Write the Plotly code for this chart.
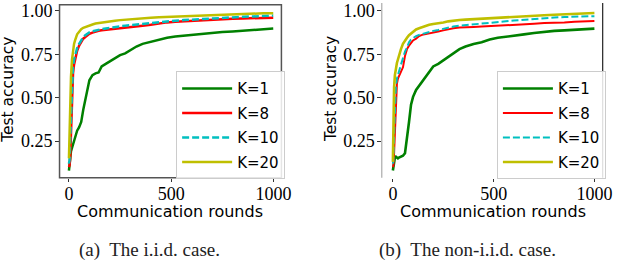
import plotly.graph_objects as go

# ---------------- data ----------------
rounds = [0, 3, 6, 10, 15, 20, 25, 30, 40, 50, 60, 70, 80, 90, 100, 115, 130, 145, 160, 180,
          200, 225, 250, 275, 300, 330, 360, 400, 440, 480, 520, 560, 600, 650, 700, 750,
          800, 850, 900, 950, 999]

iid_k1 = [0.08, 0.12, 0.16, 0.19, 0.21, 0.23, 0.26, 0.28, 0.31, 0.33, 0.36, 0.43, 0.49, 0.55,
          0.60, 0.63, 0.64, 0.645, 0.68, 0.695, 0.71, 0.73, 0.745, 0.755, 0.775, 0.795, 0.81,
          0.822, 0.834, 0.845, 0.853, 0.858, 0.862, 0.868, 0.874, 0.879, 0.882, 0.886, 0.89,
          0.894, 0.898]
iid_k8 = [0.10, 0.11, 0.15, 0.30, 0.55, 0.64, 0.69, 0.72, 0.77, 0.80, 0.82, 0.84, 0.85, 0.86,
          0.868, 0.875, 0.882, 0.886, 0.889, 0.892, 0.895, 0.899, 0.902, 0.905, 0.908, 0.911,
          0.915, 0.92, 0.928, 0.934, 0.937, 0.94, 0.943, 0.946, 0.95, 0.952, 0.955, 0.957,
          0.958, 0.96, 0.961]
iid_k10 = [0.12, 0.14, 0.25, 0.40, 0.60, 0.68, 0.72, 0.745, 0.785, 0.81, 0.83, 0.85, 0.86, 0.87,
           0.876, 0.882, 0.887, 0.891, 0.895, 0.899, 0.903, 0.907, 0.911, 0.915, 0.918, 0.922,
           0.926, 0.931, 0.935, 0.94, 0.944, 0.947, 0.95, 0.953, 0.957, 0.96, 0.963, 0.966,
           0.968, 0.971, 0.973]
iid_k20 = [0.15, 0.30, 0.50, 0.62, 0.72, 0.78, 0.81, 0.83, 0.865, 0.88, 0.895, 0.903, 0.908,
           0.913, 0.917, 0.922, 0.927, 0.93, 0.934, 0.938, 0.941, 0.944, 0.947, 0.95, 0.953,
           0.956, 0.958, 0.961, 0.964, 0.966, 0.968, 0.97, 0.972, 0.975, 0.977, 0.979, 0.981,
           0.983, 0.985, 0.986, 0.987]

noniid_k1 = [0.08, 0.11, 0.13, 0.155, 0.16, 0.155, 0.15, 0.155, 0.16, 0.165, 0.18, 0.26, 0.36,
             0.46, 0.505, 0.545, 0.57, 0.595, 0.62, 0.65, 0.68, 0.695, 0.715, 0.74, 0.76, 0.78,
             0.795, 0.81, 0.82, 0.835, 0.845, 0.85, 0.855, 0.865, 0.873, 0.88, 0.885, 0.888,
             0.892, 0.895, 0.898]
noniid_k8 = [0.10, 0.11, 0.18, 0.32, 0.51, 0.58, 0.61, 0.625, 0.645, 0.675, 0.74, 0.78, 0.80,
             0.815, 0.83, 0.84, 0.855, 0.862, 0.865, 0.87, 0.875, 0.882, 0.888, 0.895, 0.90,
             0.905, 0.905, 0.908, 0.91, 0.912, 0.915, 0.915, 0.917, 0.92, 0.926, 0.93, 0.93,
             0.933, 0.937, 0.94, 0.942]
noniid_k10 = [0.12, 0.14, 0.28, 0.45, 0.56, 0.61, 0.635, 0.65, 0.69, 0.735, 0.765, 0.79, 0.82,
              0.835, 0.845, 0.855, 0.862, 0.867, 0.872, 0.88, 0.885, 0.89, 0.898, 0.905, 0.91,
              0.915, 0.918, 0.921, 0.925, 0.928, 0.935, 0.94, 0.945, 0.95, 0.955, 0.958, 0.962,
              0.965, 0.967, 0.969, 0.97]
noniid_k20 = [0.13, 0.45, 0.56, 0.63, 0.67, 0.70, 0.72, 0.745, 0.78, 0.81, 0.83, 0.845, 0.86,
              0.87, 0.882, 0.893, 0.90, 0.907, 0.913, 0.92, 0.925, 0.928, 0.933, 0.94, 0.945,
              0.948, 0.95, 0.953, 0.956, 0.958, 0.96, 0.962, 0.965, 0.968, 0.972, 0.975, 0.978,
              0.981, 0.984, 0.986, 0.988]

series_names = ["K=1", "K=8", "K=10", "K=20"]
x_tick_vals = [0, 500, 1000]
x_tick_text = ["0", "500", "1000"]
y_tick_vals = [0.25, 0.50, 0.75, 1.00]
y_tick_text = ["0.25", "0.50", "0.75", "1.00"]
x_title = "Communication rounds"
y_title = "Test accuracy"
captions = ["(a)  The i.i.d. case.", "(b)  The non-i.i.d. case."]

# ---------------- styling ----------------
colors = ["#008000", "#ff0000", "#00bfbf", "#bfbf00"]
dashes = ["solid", "solid", "7px,3px", "solid"]
widths_a = [2.5, 2.5, 2.5, 2.5]
widths_b = [2.6, 2.0, 2.0, 2.6]

W, H = 624, 260
SANS = "DejaVu Sans"
SERIF = "Liberation Serif"

fig = go.Figure()

panels = [
    ([iid_k1, iid_k8, iid_k10, iid_k20], "x", "y", "legend", widths_a),
    ([noniid_k1, noniid_k8, noniid_k10, noniid_k20], "x2", "y2", "legend2", widths_b),
]
for series, xa, ya, leg, wd in panels:
    for i, (name, ys) in enumerate(zip(series_names, series)):
        fig.add_trace(go.Scatter(
            x=rounds, y=ys, mode="lines", name=name,
            xaxis=xa, yaxis=ya, legend=leg, legendgroup=leg + name,
            line=dict(color=colors[i], width=wd[i], dash=dashes[i]),
        ))


def px_x(p):
    return p / W


def px_y(p):
    return 1 - p / H


ydom = [px_y(176.7), px_y(1.7)]
axis_common = dict(
    ticks="outside", ticklen=3.5, tickwidth=1, tickcolor="#333",
    showgrid=False, zeroline=False, showline=False,
    ticklabeloverflow="allow",
    tickfont=dict(family=SERIF, size=18, color="#000"),
)
xaxis_extra = dict(ticklabelstandoff=-4)
yaxis_extra = dict(ticklabelstandoff=-1)

legend_common = dict(
    xanchor="left", yanchor="top",
    bgcolor="rgba(255,255,255,0.85)", bordercolor="#cccccc", borderwidth=1,
    font=dict(family=SANS, size=15, color="#000"), tracegroupgap=2, itemwidth=50,
)

fig.update_layout(
    width=W, height=H,
    margin=dict(l=0, r=0, t=0, b=0),
    paper_bgcolor="white", plot_bgcolor="white",
    showlegend=True,
    xaxis=dict(domain=[px_x(60.5), px_x(286)], range=[-46, 1039], anchor="y",
               tickvals=x_tick_vals, ticktext=x_tick_text, **axis_common, **xaxis_extra),
    yaxis=dict(domain=ydom, range=[0.039, 1.036], anchor="x",
               tickvals=y_tick_vals, ticktext=y_tick_text, **axis_common, **yaxis_extra),
    xaxis2=dict(domain=[px_x(388), px_x(612.5)], range=[-55, 1040], anchor="y2",
                tickvals=x_tick_vals, ticktext=x_tick_text, **axis_common, **xaxis_extra),
    yaxis2=dict(domain=ydom, range=[0.039, 1.036], anchor="x2",
                tickvals=y_tick_vals, ticktext=y_tick_text, **axis_common, **yaxis_extra),
    legend=dict(x=px_x(179), y=px_y(69), **legend_common),
    legend2=dict(x=px_x(505), y=px_y(69), **legend_common),
)

# spines
fig.add_shape(type="rect", xref="x domain", yref="y domain", x0=0, x1=1, y0=0, y1=1,
              line=dict(color="#555", width=1.5), layer="above")
fig.add_shape(type="line", xref="x2 domain", yref="y2 domain", x0=0, x1=0, y0=0, y1=1.01,
              line=dict(color="#aaa", width=1.2), layer="above")
fig.add_shape(type="line", xref="x2 domain", yref="y2 domain", x0=1, x1=1, y0=0, y1=1.01,
              line=dict(color="#222", width=1.2), layer="above")

# axis titles
for cx in (173, 501):
    fig.add_annotation(text=x_title, x=px_x(cx), y=px_y(211), xref="paper", yref="paper",
                       showarrow=False, xanchor="center", yanchor="middle",
                       font=dict(family=SANS, size=16, color="#000"))
for cx in (8.5, 337):
    fig.add_annotation(text=y_title, x=px_x(cx), y=px_y(87.5), xref="paper", yref="paper",
                       showarrow=False, xanchor="center", yanchor="middle", textangle=-90,
                       font=dict(family=SANS, size=15.5, color="#000"))

# captions
for cx, cap in zip((151.5, 475), captions):
    fig.add_annotation(text=cap, x=px_x(cx), y=px_y(250), xref="paper", yref="paper",
                       showarrow=False, xanchor="center", yanchor="middle",
                       font=dict(family=SERIF, size=19, color="#222"))

fig.write_html("out.html",
               config={"displayModeBar": False},
               post_script="document.body.style.margin='0';document.body.style.padding='0';")
